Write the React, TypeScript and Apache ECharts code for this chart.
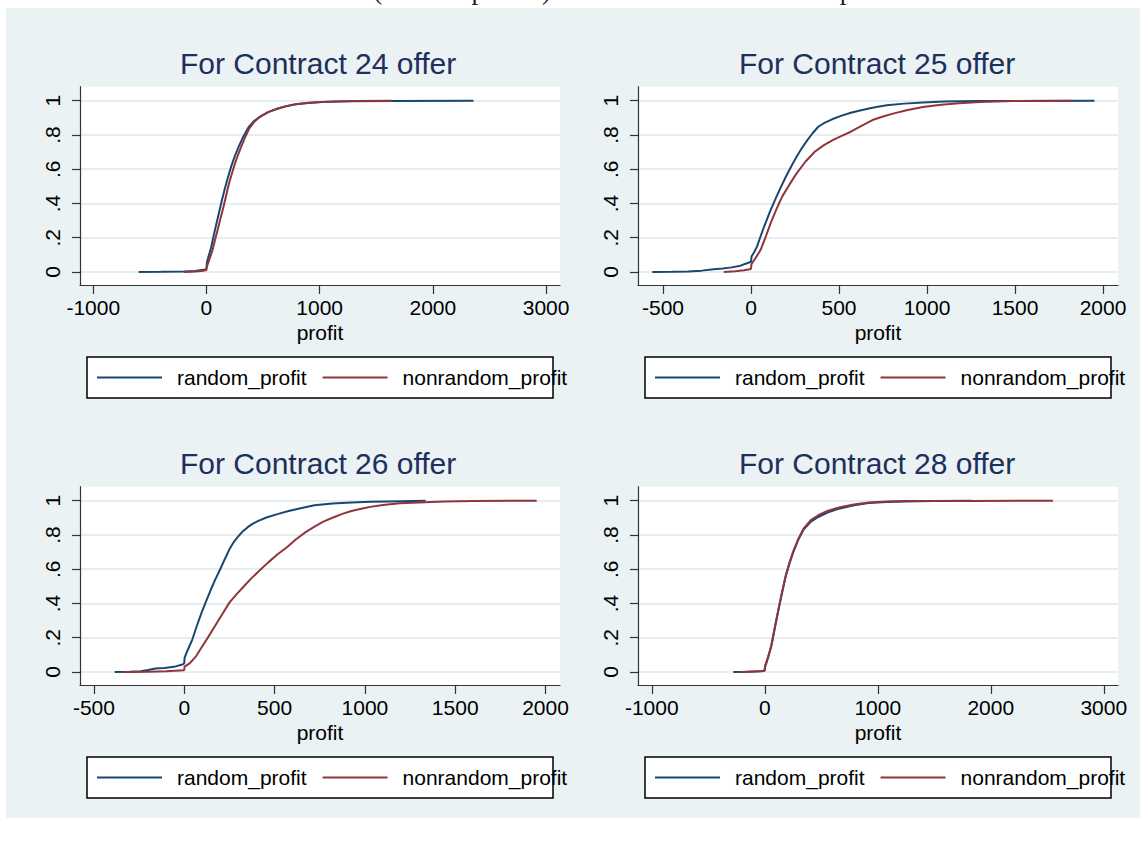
import React, { useEffect, useRef } from 'react';
import * as echarts from 'echarts';

const panelTitles = ['For Contract 24 offer', 'For Contract 25 offer', 'For Contract 26 offer', 'For Contract 28 offer'];
const seriesNames = ['random_profit', 'nonrandom_profit'];
const xTicksWide = [-1000, 0, 1000, 2000, 3000];
const xTicksNarrow = [-500, 0, 500, 1000, 1500, 2000];
const yTicks = [0, 0.2, 0.4, 0.6, 0.8, 1];
const xAxisTitle = 'profit';
const topCaption = 'Distribution (random profits) versus that of nonrandom profits';

const c24Random = [[-599, 0], [-400, 0.001], [-200, 0.003], [-100, 0.006], [-10, 0.015], [0, 0.02], [5, 0.06], [40, 0.14], [75, 0.245], [105, 0.33], [137, 0.42], [160, 0.48], [180, 0.53], [200, 0.575], [218, 0.615], [250, 0.675], [284, 0.73], [325, 0.79], [372, 0.845], [415, 0.878], [464, 0.903], [540, 0.932], [627, 0.953], [700, 0.967], [790, 0.979], [900, 0.987], [1019, 0.992], [1150, 0.995], [1281, 0.997], [1638, 0.999], [2359, 1]];
const c24Nonrandom = [[-197, 0], [-100, 0.003], [-40, 0.006], [0, 0.012], [3, 0.03], [50, 0.12], [75, 0.185], [100, 0.25], [125, 0.315], [150, 0.38], [175, 0.45], [200, 0.52], [225, 0.575], [250, 0.63], [275, 0.677], [300, 0.72], [340, 0.785], [380, 0.84], [420, 0.875], [470, 0.905], [550, 0.935], [630, 0.955], [700, 0.968], [790, 0.98], [900, 0.988], [1019, 0.993], [1150, 0.996], [1300, 0.998], [1638, 1]];
const c25Random = [[-561, 0], [-450, 0.001], [-356, 0.003], [-280, 0.008], [-212, 0.016], [-160, 0.021], [-110, 0.027], [-60, 0.037], [-7, 0.057], [0, 0.06], [3, 0.09], [20, 0.12], [34, 0.148], [55, 0.21], [74, 0.264], [105, 0.345], [136, 0.42], [167, 0.49], [198, 0.556], [229, 0.617], [259, 0.673], [290, 0.725], [320, 0.77], [350, 0.81], [382, 0.848], [420, 0.872], [464, 0.893], [515, 0.913], [567, 0.93], [620, 0.943], [670, 0.955], [720, 0.965], [772, 0.973], [870, 0.983], [977, 0.99], [1100, 0.995], [1284, 0.998], [1500, 0.999], [1951, 1]];
const c25Nonrandom = [[-155, 0], [-90, 0.005], [-40, 0.01], [-7, 0.016], [0, 0.02], [3, 0.047], [25, 0.08], [54, 0.128], [85, 0.21], [115, 0.294], [146, 0.37], [177, 0.44], [218, 0.51], [259, 0.576], [310, 0.645], [362, 0.702], [410, 0.738], [464, 0.77], [515, 0.795], [567, 0.819], [630, 0.855], [690, 0.887], [750, 0.908], [812, 0.926], [890, 0.946], [977, 0.963], [1080, 0.976], [1182, 0.985], [1300, 0.992], [1489, 0.998], [1818, 1]];
const c26Random = [[-385, 0], [-300, 0.002], [-241, 0.005], [-200, 0.012], [-160, 0.02], [-110, 0.024], [-57, 0.03], [-6, 0.045], [0, 0.05], [2, 0.084], [20, 0.13], [45, 0.191], [70, 0.27], [96, 0.347], [122, 0.415], [148, 0.483], [174, 0.545], [199, 0.6], [225, 0.66], [250, 0.716], [275, 0.76], [301, 0.794], [325, 0.822], [353, 0.847], [380, 0.866], [410, 0.882], [455, 0.902], [520, 0.923], [578, 0.94], [650, 0.958], [721, 0.973], [820, 0.984], [926, 0.99], [1030, 0.994], [1131, 0.996], [1336, 1]];
const c26Nonrandom = [[-334, 0], [-200, 0.002], [-98, 0.004], [-5, 0.01], [0, 0.012], [2, 0.031], [30, 0.05], [66, 0.093], [100, 0.15], [148, 0.23], [200, 0.32], [250, 0.405], [290, 0.455], [332, 0.502], [370, 0.545], [414, 0.59], [465, 0.64], [517, 0.687], [570, 0.73], [619, 0.775], [670, 0.815], [721, 0.849], [770, 0.878], [824, 0.902], [875, 0.923], [926, 0.94], [980, 0.953], [1029, 0.964], [1100, 0.975], [1193, 0.985], [1300, 0.99], [1438, 0.995], [1600, 0.998], [1951, 1]];
const c28Random = [[-278, 0], [-150, 0.002], [-38, 0.005], [0, 0.008], [3, 0.03], [30, 0.085], [58, 0.152], [90, 0.26], [122, 0.366], [154, 0.465], [186, 0.56], [218, 0.632], [250, 0.697], [295, 0.77], [345, 0.833], [405, 0.876], [473, 0.905], [560, 0.932], [665, 0.955], [790, 0.973], [920, 0.986], [1080, 0.992], [1240, 0.996], [1500, 0.999], [1831, 1]];
const c28Nonrandom = [[-214, 0], [-100, 0.003], [-5, 0.006], [0, 0.008], [3, 0.035], [30, 0.09], [58, 0.155], [90, 0.265], [122, 0.37], [154, 0.47], [186, 0.565], [218, 0.637], [250, 0.7], [295, 0.775], [345, 0.838], [405, 0.885], [473, 0.915], [560, 0.942], [665, 0.962], [790, 0.978], [920, 0.99], [1080, 0.995], [1240, 0.998], [1831, 0.999], [2550, 1]];

const panelData = [
  [c24Random, c24Nonrandom],
  [c25Random, c25Nonrandom],
  [c26Random, c26Nonrandom],
  [c28Random, c28Nonrandom],
];
const panelXTicks = [xTicksWide, xTicksNarrow, xTicksNarrow, xTicksWide];
const panelXRange = [[-1117, 3123], [-642, 2085], [-577, 2080], [-1122, 3126]];

const FONT = '"Liberation Sans", Arial, sans-serif';
const BG = '#EAF2F3';
const BLUE = '#1a476f';
const RED = '#90353b';
const AXIS = '#333333';
const TITLE = '#1f2f5c';

const origins = [[0, 0], [558, 0], [0, 400], [558, 400]];

function buildOption() {
  const grid: any[] = [];
  const xAxis: any[] = [];
  const yAxis: any[] = [];
  const series: any[] = [];
  const title: any[] = [];
  const legend: any[] = [];
  const graphic: any[] = [
    { type: 'rect', shape: { x: 0, y: 0, width: 1146, height: 8 }, style: { fill: '#fff' }, z: 1 },
    { type: 'rect', shape: { x: 0, y: 0, width: 6, height: 842 }, style: { fill: '#fff' }, z: 1 },
    { type: 'rect', shape: { x: 1140, y: 0, width: 6, height: 842 }, style: { fill: '#fff' }, z: 1 },
    { type: 'rect', shape: { x: 0, y: 818, width: 1146, height: 24 }, style: { fill: '#fff' }, z: 1 },
    {
      type: 'text', x: 236, y: 3, z: 2,
      style: { text: topCaption, fontFamily: '"Liberation Serif", "Times New Roman", serif', fontSize: 27, fill: '#222', verticalAlign: 'bottom', align: 'left' },
    },
  ];

  origins.forEach(([ox, oy], i) => {
    grid.push({ left: 80 + ox, top: 86.7 + oy, width: 480, height: 198.3, show: true, backgroundColor: '#ffffff', borderWidth: 0, containLabel: false });
    const ticks = panelXTicks[i];
    xAxis.push({
      type: 'value', gridIndex: i, min: panelXRange[i][0], max: panelXRange[i][1],
      axisLine: { show: true, onZero: false, lineStyle: { color: AXIS, width: 1.2 } },
      axisTick: { show: true, length: 9, customValues: ticks, lineStyle: { color: AXIS, width: 1.2 } },
      axisLabel: { show: true, customValues: ticks, margin: 12, fontSize: 21, color: '#000', fontFamily: FONT, formatter: (v: number) => String(v) },
      splitLine: { show: false },
      name: xAxisTitle, nameLocation: 'middle', nameGap: 37,
      nameTextStyle: { fontSize: 21, color: '#000', fontFamily: FONT },
    });
    yAxis.push({
      type: 'value', gridIndex: i, min: -0.0759, max: 1.0818,
      axisLine: { show: true, onZero: false, lineStyle: { color: AXIS, width: 1.2 } },
      axisTick: { show: true, length: 8, customValues: yTicks, lineStyle: { color: AXIS, width: 1.2 } },
      axisLabel: {
        show: true, customValues: yTicks, rotate: 90, margin: 17, fontSize: 21, color: '#000', fontFamily: FONT,
        formatter: (v: number) => (v === 0 ? '0' : v === 1 ? '1' : String(v).replace(/^0/, '')),
      },
      splitLine: { show: true, lineStyle: { color: '#E6EEF1', width: 2 } },
    });
    title.push({
      text: panelTitles[i], left: 180 + ox + (i % 2 === 1 ? 1 : 0), top: 48 + oy, padding: 0,
      textStyle: { fontSize: 30, fontWeight: 'normal', color: TITLE, fontFamily: FONT },
    });
    legend.push({
      show: true, left: 97 + ox, top: 367 + oy, padding: 0, itemGap: 16,
      itemWidth: 65, itemHeight: 2, icon: 'rect', orient: 'horizontal', z: 5,
      data: seriesNames,
      selectedMode: false,
      textStyle: { fontSize: 21, color: '#000', fontFamily: FONT, padding: [0, 0, 0, 10] },
    });
    graphic.push({
      type: 'rect', z: 1,
      shape: { x: 87 + ox, y: 357 + oy, width: 466, height: 41 },
      style: { fill: '#ffffff', stroke: '#000', lineWidth: 1.5 },
    });
    panelData[i].forEach((d, k) => {
      series.push({
        type: 'line', name: seriesNames[k], xAxisIndex: i, yAxisIndex: i,
        data: d, showSymbol: false, symbol: 'none', smooth: false,
        lineStyle: { color: k === 0 ? BLUE : RED, width: 2 },
        itemStyle: { color: k === 0 ? BLUE : RED },
        z: 3 + k,
      });
    });
  });

  return {
    animation: false,
    backgroundColor: BG,
    textStyle: { fontFamily: FONT },
    grid, xAxis, yAxis, series, title, legend, graphic,
  };
}

export default function App() {
  const ref = useRef<HTMLDivElement>(null);
  useEffect(() => {
    const chart = echarts.init(ref.current as HTMLDivElement, null, { renderer: 'svg' });
    chart.setOption(buildOption() as any);
    return () => chart.dispose();
  }, []);
  return <div ref={ref} style={{ position: 'absolute', left: 0, top: 0, width: 1146, height: 842 }} />;
}
